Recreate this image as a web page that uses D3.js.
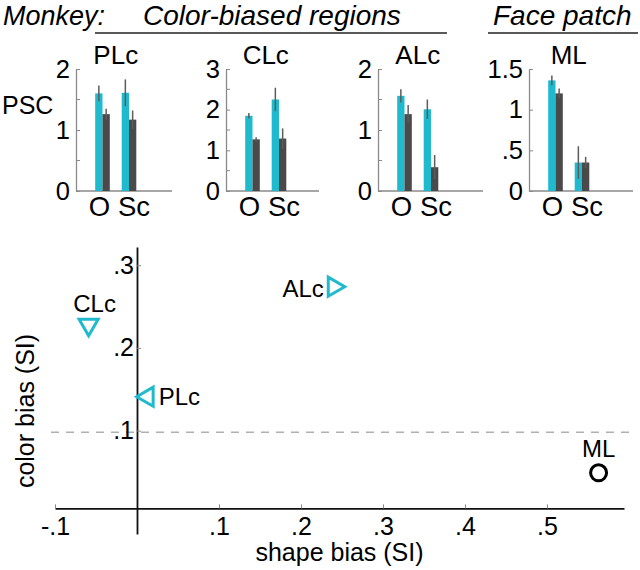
<!DOCTYPE html>
<html>
<head>
<meta charset="utf-8">
<script src="https://cdn.jsdelivr.net/npm/d3@7"></script>
<style>
  body { margin: 0; background: #fff; }
  svg { font-family: "Liberation Sans", Arial, Helvetica, sans-serif; }
</style>
</head>
<body>
<div id="chart"></div>
<script>
'use strict';

// Top row: percent signal change per region, object (O) vs scrambled (Sc)
const regions = ["PLc", "CLc", "ALc", "ML"];
const conditions = ["O", "Sc"];
const colorVals = [[1.60, 1.61], [1.85, 2.25], [1.56, 1.34], [1.36, 0.35]];
const colorErr = [[0.13, 0.22], [0.07, 0.29], [0.11, 0.16], [0.06, 0.20]];
const grayVals = [[1.26, 1.17], [1.27, 1.29], [1.26, 0.39], [1.20, 0.35]];
const grayErr = [[0.09, 0.15], [0.05, 0.25], [0.15, 0.20], [0.06, 0.07]];
const pscMax = [2, 3, 2, 1.5];
const pscTicks = [[0, 1, 2], [0, 1, 2, 3], [0, 1, 2], [0, 0.5, 1, 1.5]];
const pscMinor = [[0.5, 1.5], [0.5, 1.5, 2.5], [0.5, 1.5], []];

// Bottom: shape bias vs color bias
const scatterNames = ["PLc", "CLc", "ALc", "ML"];
const shapeBias = [0.013, -0.059, 0.24, 0.563];
const colorBias = [0.141, 0.228, 0.274, 0.049];
const markerTypes = ["left", "down", "right", "circle"];
const xTicks = [-0.1, 0.1, 0.2, 0.3, 0.4, 0.5];
const yTicks = [0.1, 0.2, 0.3];
const refBias = 0.098;

const cyan = "#1fbacd";
const darkGray = "#4a4a4a";
// matlab-ish labels: ".5", "-.1"
const fmt = v => v === 0 ? "0" : (v < 0 ? "-" : "") + String(Math.abs(v)).replace(/^0\./, ".");

const svg = d3.select("#chart").append("svg")
    .attr("width", 640)
    .attr("height", 570);

// ---- header
svg.append("text").attr("x", 3).attr("y", 25)
    .style("font-style", "italic").style("font-size", "27px")
    .text("Monkey:");
svg.append("text").attr("x", 143).attr("y", 25)
    .style("font-style", "italic").style("font-size", "28px")
    .text("Color-biased regions");
svg.append("text").attr("x", 493).attr("y", 25)
    .style("font-style", "italic").style("font-size", "28px")
    .text("Face patch");
svg.append("line").attr("x1", 95).attr("x2", 447).attr("y1", 33).attr("y2", 33)
    .attr("stroke", "#222").attr("stroke-width", 1.5);
svg.append("line").attr("x1", 488).attr("x2", 638).attr("y1", 33).attr("y2", 33)
    .attr("stroke", "#222").attr("stroke-width", 1.5);

svg.append("text").attr("x", 2).attr("y", 114)
    .style("font-size", "25px").text("PSC");

// ---- bar panels
const panelLeft = [76, 226, 378, 529];
const panelWidth = [96, 93, 105, 104];
const panelTop = 69, panelBottom = 191;
const barW = 7.3;

regions.forEach((name, p) => {
    const g = svg.append("g").attr("transform", `translate(${panelLeft[p]},0)`);

    const y = d3.scaleLinear().domain([0, pscMax[p]]).range([panelBottom, panelTop]);
    const x = d3.scalePoint().domain(conditions).range([26.5, 53]);
    const xLab = d3.scalePoint().domain(conditions).range([23, 57.5]);

    // y axis (major + minor ticks pointing inward)
    const yAxis = g.append("g")
        .call(d3.axisLeft(y).tickValues(pscTicks[p]).tickFormat(fmt)
            .tickSize(-4).tickSizeOuter(0).tickPadding(6));
    yAxis.select(".domain").attr("stroke", "#8a8a8a").attr("stroke-width", 1.3);
    yAxis.selectAll(".tick line").attr("stroke", "#8a8a8a");
    yAxis.selectAll(".tick text").style("font-size", "25.5px").attr("fill", "#000");
    g.selectAll(".minor").data(pscMinor[p]).enter().append("line")
        .attr("class", "minor")
        .attr("x1", 0).attr("x2", 4)
        .attr("y1", d => y(d)).attr("y2", d => y(d))
        .attr("stroke", "#8a8a8a");

    // baseline
    g.append("line").attr("x1", 0).attr("x2", panelWidth[p])
        .attr("y1", y(0)).attr("y2", y(0))
        .attr("stroke", "#8a8a8a").attr("stroke-width", 1.3);

    // category labels
    const xAxis = g.append("g").attr("transform", `translate(0,${y(0)})`)
        .call(d3.axisBottom(xLab).tickSize(0).tickPadding(5));
    xAxis.select(".domain").remove();
    xAxis.selectAll(".tick text").style("font-size", "27.5px").attr("fill", "#000");

    // title
    g.append("text")
        .attr("x", (x("O") + x("Sc")) / 2)
        .attr("y", 64)
        .attr("text-anchor", "middle")
        .style("font-size", "26px")
        .text(name);

    const bars = conditions.map((c, i) => [
        { c, v: colorVals[p][i], e: colorErr[p][i], fill: cyan, off: -barW },
        { c, v: grayVals[p][i], e: grayErr[p][i], fill: darkGray, off: 0 }
    ]).flat();

    g.selectAll(".bar").data(bars).enter().append("rect")
        .attr("class", "bar")
        .attr("x", d => x(d.c) + d.off)
        .attr("y", d => y(d.v))
        .attr("width", barW)
        .attr("height", d => y(0) - y(d.v))
        .attr("fill", d => d.fill);

    g.selectAll(".err").data(bars).enter().append("line")
        .attr("class", "err")
        .attr("x1", d => x(d.c) + d.off + barW / 2)
        .attr("x2", d => x(d.c) + d.off + barW / 2)
        .attr("y1", d => y(d.v - d.e))
        .attr("y2", d => y(d.v + d.e))
        .attr("stroke", "#5c5c5c")
        .attr("stroke-width", 1.5);
});

// ---- scatter
const sx = d3.scaleLinear().domain([-0.1, 0.594]).range([55, 624]);
const sy = d3.scaleLinear().domain([-0.025, 0.322]).range([534, 247]);
const xAxisY = sy(0.006);

// reference dashed line
svg.append("line")
    .attr("x1", 51).attr("x2", 632)
    .attr("y1", sy(refBias)).attr("y2", sy(refBias))
    .attr("stroke", "#b0b0b0").attr("stroke-width", 1.5)
    .attr("stroke-dasharray", "8,7");

const gx = svg.append("g").attr("transform", `translate(0,${xAxisY})`)
    .call(d3.axisBottom(sx).tickValues(xTicks).tickFormat(fmt)
        .tickSize(-4).tickSizeOuter(0).tickPadding(9));
gx.select(".domain").attr("stroke", "#111").attr("stroke-width", 1.8);
gx.selectAll(".tick line").attr("stroke", "#888");
gx.selectAll(".tick text").style("font-size", "25px").attr("fill", "#000");

const gy = svg.append("g").attr("transform", `translate(${sx(0)},0)`)
    .call(d3.axisLeft(sy).tickValues(yTicks).tickFormat(fmt)
        .tickSize(-4).tickSizeOuter(0).tickPadding(3));
gy.select(".domain").attr("stroke", "#111").attr("stroke-width", 1.8);
gy.selectAll(".tick line").attr("stroke", "#888");
gy.selectAll(".tick text").style("font-size", "25px").attr("fill", "#000");

svg.append("text")
    .attr("x", (sx.range()[0] + sx.range()[1]) / 2)
    .attr("y", 561)
    .attr("text-anchor", "middle")
    .style("font-size", "25px")
    .text("shape bias (SI)");

svg.append("text")
    .attr("transform", "translate(34,411) rotate(-90)")
    .attr("text-anchor", "middle")
    .style("font-size", "25px")
    .text("color bias (SI)");

const rotation = { up: 0, right: 90, down: 180, left: -90 };
const points = scatterNames.map((n, i) => ({ n, x: shapeBias[i], y: colorBias[i], m: markerTypes[i] }));

svg.selectAll(".marker").data(points).enter().append("path")
    .attr("class", "marker")
    .attr("transform", d => `translate(${sx(d.x)},${sy(d.y)}) rotate(${rotation[d.m] || 0})`)
    .attr("d", d => d.m === "circle"
        ? d3.symbol().type(d3.symbolCircle).size(Math.PI * 64)()
        : d3.symbol().type(d3.symbolTriangle).size(157)())
    .attr("fill", "none")
    .attr("stroke", d => d.m === "circle" ? "#000" : cyan)
    .attr("stroke-width", 3);

// labels beside the markers
const labelPos = {
    left: { dx: 11, dy: 8, anchor: "start" },
    down: { dx: 6, dy: -13, anchor: "middle" },
    right: { dx: -10, dy: 10, anchor: "end" },
    circle: { dx: 0, dy: -16, anchor: "middle" }
};
svg.selectAll(".mlabel").data(points).enter().append("text")
    .attr("class", "mlabel")
    .attr("x", d => sx(d.x) + labelPos[d.m].dx)
    .attr("y", d => sy(d.y) + labelPos[d.m].dy)
    .attr("text-anchor", d => labelPos[d.m].anchor)
    .style("font-size", "24px")
    .text(d => d.n);
</script>
</body>
</html>
